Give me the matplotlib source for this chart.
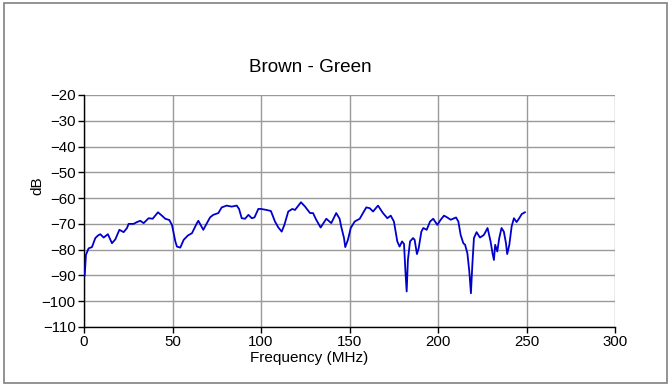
import matplotlib
matplotlib.use("Agg")
import matplotlib.pyplot as plt
from matplotlib.patches import Rectangle

plt.rcParams['font.family'] = ['Liberation Sans', 'DejaVu Sans']

freq_mhz = [0.4, 1.1, 2.6, 4.5, 6.4, 7.9, 9.2, 11.1, 13.5, 15.8, 17.7, 20.0, 22.4, 24.3,
            25.2, 28.0, 29.9, 31.8, 33.7, 36.5, 38.8, 41.8, 44.0, 45.9, 48.2, 49.7, 51.6,
            52.5, 54.4, 56.3, 58.7, 61.0, 63.8, 64.6, 67.4, 71.2, 73.0, 75.9, 77.8, 80.6,
            83.4, 86.3, 87.6, 89.1, 91.0, 92.9, 94.8, 96.3, 98.5, 100.0, 103.2, 105.6,
            107.9, 109.8, 111.7, 113.2, 115.4, 117.7, 119.2, 122.6, 124.9, 127.7, 129.4,
            131.2, 133.7, 136.9, 139.7, 142.5, 144.4, 145.3, 146.9, 147.6, 149.1, 150.7,
            152.9, 155.8, 157.6, 159.5, 161.4, 163.3, 166.1, 168.9, 171.4, 173.3, 175.1,
            177.0, 178.3, 179.7, 180.8, 181.6, 182.3, 183.0, 184.2, 185.9, 186.8, 188.1,
            189.1, 190.6, 191.7, 193.6, 195.5, 197.3, 199.6, 201.5, 203.4, 205.2, 207.2,
            210.2, 211.5, 212.8, 214.3, 215.3, 216.6, 217.7, 218.6, 219.4, 220.3, 221.8,
            223.7, 225.9, 228.0, 229.7, 230.8, 231.6, 232.3, 233.5, 234.6, 235.9, 237.2,
            238.4, 239.1, 240.3, 241.6, 242.9, 244.4, 245.9, 247.3, 249.1]
loss_db = [-90.0, -82.0, -79.5, -79.0, -75.5, -74.5, -74.0, -75.3, -74.0, -77.5, -76.0,
           -72.3, -73.2, -71.6, -70.0, -70.0, -69.3, -68.8, -69.7, -67.8, -68.0, -65.5,
           -66.8, -68.0, -68.5, -70.4, -76.8, -78.8, -79.2, -76.2, -74.5, -73.6, -69.7,
           -68.8, -72.3, -67.5, -66.5, -65.8, -63.6, -62.9, -63.3, -62.9, -64.2, -67.8,
           -68.0, -66.5, -67.8, -67.5, -64.2, -64.2, -64.6, -65.0, -69.1, -71.4, -73.0,
           -70.4, -65.2, -64.2, -64.6, -61.6, -63.3, -65.8, -65.8, -68.4, -71.4, -68.0,
           -69.7, -65.8, -68.0, -71.0, -75.5, -79.0, -76.2, -71.6, -69.1, -68.0, -65.8,
           -63.6, -63.9, -65.2, -62.9, -65.8, -67.8, -66.8, -69.1, -76.8, -78.8, -76.8,
           -77.8, -88.5, -96.2, -84.0, -76.8, -75.5, -76.2, -81.7, -79.4, -73.0, -71.6,
           -72.3, -69.1, -68.0, -70.4, -68.4, -66.8, -67.5, -68.4, -67.5, -69.1, -74.3,
           -77.5, -78.1, -81.4, -88.5, -96.9, -85.9, -75.5, -73.2, -75.3, -74.3, -71.6,
           -76.8, -81.4, -84.0, -78.1, -80.7, -75.5, -71.6, -73.0, -77.5, -81.7, -78.1,
           -71.0, -67.8, -69.3, -67.8, -66.2, -65.5]

x_ticks = [0, 50, 100, 150, 200, 250, 300]
y_ticks = [-110, -100, -90, -80, -70, -60, -50, -40, -30, -20]

W, H = 669, 385
fig = plt.figure(figsize=(W / 100, H / 100), dpi=100)
ax = fig.add_axes([84 / W, 1 - 327 / H, (615 - 84) / W, (327 - 95) / H])

ax.plot(freq_mhz, loss_db, color='#0000cc', linewidth=1.3, zorder=3)

ax.set_xlim(0, 300)
ax.set_ylim(-110, -20)
ax.set_xticks(x_ticks)
ax.set_yticks(y_ticks)
ax.tick_params(direction='out', length=4, width=1, color='black', labelsize=10.8, pad=2)
ax.grid(True, color='#999999', linewidth=1)
ax.set_axisbelow(True)
for s in ['top', 'right']:
    ax.spines[s].set_visible(False)
for s in ['left', 'bottom']:
    ax.spines[s].set_color('black')
    ax.spines[s].set_linewidth(1)

fig.text(310 / W, 1 - 68 / H, 'Brown - Green', ha='center', va='center', fontsize=13.6)
fig.text(309 / W, 1 - 358 / H, 'Frequency (MHz)', ha='center', va='center', fontsize=11)
fig.text(37 / W, 1 - 186 / H, 'dB', ha='center', va='center', fontsize=11, rotation=90)

fig.patches.append(Rectangle((3.5 / W, 2.5 / H), (666.5 - 3.5) / W, (382.5 - 2.5) / H,
                             transform=fig.transFigure, fill=False,
                             edgecolor='#808080', linewidth=1.2))

fig.savefig('out.png', dpi=100)
